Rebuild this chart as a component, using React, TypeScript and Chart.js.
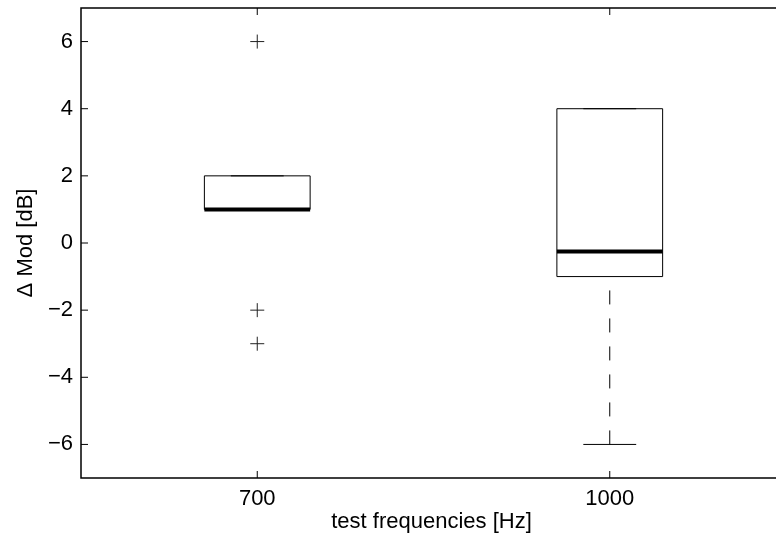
import React, { useEffect, useRef } from "react";
import { Chart, registerables } from "chart.js";

Chart.register(...registerables);

// Groups along the x axis
const categories = ["700", "1000"];
const positions = [1, 2];

// Box statistics per group
const q1 = [1, -1];
const q3 = [2, 4];
const medians = [1, -0.25];
const whiskerLow = [1, -6];
const whiskerHigh = [2, 4];
const outliers = [[6, -2, -3], []];

// Axis ticks
const yTicks = [-6, -4, -2, 0, 2, 4, 6];
const yTickLabels = ["−6", "−4", "−2", "0", "2", "4", "6"];

const xTitle = "test frequencies [Hz]";
const yTitle = "Δ Mod [dB]";

const FONT = "'Liberation Sans', Arial, Helvetica, sans-serif";
const FONT_SIZE = 22;

const BOX_HALF = 0.15;
const CAP_HALF = 0.075;
const TICK_LEN = 7;

const boxPlugin = {
  id: "boxPlot",
  beforeDatasetsDraw(chart: any) {
    const { ctx, scales } = chart;
    const xs = scales.x;
    const ys = scales.y;
    ctx.save();
    ctx.strokeStyle = "#000";
    positions.forEach((p, i) => {
      const xc = xs.getPixelForValue(p);
      const xl = xs.getPixelForValue(p - BOX_HALF);
      const xr = xs.getPixelForValue(p + BOX_HALF);
      const cl = xs.getPixelForValue(p - CAP_HALF);
      const cr = xs.getPixelForValue(p + CAP_HALF);
      const yq1 = ys.getPixelForValue(q1[i]);
      const yq3 = ys.getPixelForValue(q3[i]);
      const ylo = ys.getPixelForValue(whiskerLow[i]);
      const yhi = ys.getPixelForValue(whiskerHigh[i]);
      const ymed = ys.getPixelForValue(medians[i]);

      // whiskers (dashed), drawn from the caps toward the box
      ctx.lineWidth = 1;
      ctx.setLineDash([14, 14]);
      if (ylo - yq1 > 0.5) {
        ctx.beginPath();
        ctx.moveTo(xc, ylo);
        ctx.lineTo(xc, yq1);
        ctx.stroke();
      }
      if (yq3 - yhi > 0.5) {
        ctx.beginPath();
        ctx.moveTo(xc, yhi);
        ctx.lineTo(xc, yq3);
        ctx.stroke();
      }
      ctx.setLineDash([]);

      // caps
      ctx.beginPath();
      ctx.moveTo(cl, ylo);
      ctx.lineTo(cr, ylo);
      ctx.moveTo(cl, yhi);
      ctx.lineTo(cr, yhi);
      ctx.stroke();

      // box
      ctx.beginPath();
      ctx.rect(xl, yq3, xr - xl, yq1 - yq3);
      ctx.stroke();

      // median
      ctx.lineWidth = 4;
      ctx.beginPath();
      ctx.moveTo(xl, ymed);
      ctx.lineTo(xr, ymed);
      ctx.stroke();
    });
    ctx.restore();
  },
  afterDraw(chart: any) {
    const { ctx, chartArea, scales } = chart;
    const { left, top, right, bottom } = chartArea;
    ctx.save();
    ctx.strokeStyle = "#000";
    ctx.lineWidth = 1.5;
    // axes frame
    ctx.beginPath();
    ctx.moveTo(right, top);
    ctx.lineTo(left, top);
    ctx.lineTo(left, bottom);
    ctx.lineTo(right, bottom);
    ctx.stroke();

    // inward tick marks
    ctx.lineWidth = 1;
    ctx.beginPath();
    yTicks.forEach((v) => {
      const y = scales.y.getPixelForValue(v);
      ctx.moveTo(left, y);
      ctx.lineTo(left + TICK_LEN, y);
    });
    positions.forEach((p) => {
      const x = scales.x.getPixelForValue(p);
      ctx.moveTo(x, bottom);
      ctx.lineTo(x, bottom - TICK_LEN);
      ctx.moveTo(x, top);
      ctx.lineTo(x, top + TICK_LEN);
    });
    ctx.stroke();

    // axis titles
    ctx.fillStyle = "#000";
    ctx.font = `${FONT_SIZE}px ${FONT}`;
    ctx.textAlign = "center";
    ctx.textBaseline = "alphabetic";
    ctx.fillText(xTitle, (left + right) / 2 - 2, 528);
    ctx.translate(32, (top + bottom) / 2);
    ctx.rotate(-Math.PI / 2);
    ctx.fillText(yTitle, 0, 0);
    ctx.restore();
  },
};

export default function App() {
  const canvasRef = useRef<HTMLCanvasElement | null>(null);

  useEffect(() => {
    const canvas = canvasRef.current;
    if (!canvas) return;
    const points: { x: number; y: number }[] = [];
    outliers.forEach((vals, i) => {
      vals.forEach((v) => points.push({ x: positions[i], y: v }));
    });

    const tickFont = { family: FONT, size: FONT_SIZE };
    const noEdgePadding = (s: any) => {
      s.paddingTop = 0;
      s.paddingBottom = 0;
      s.paddingLeft = 0;
      s.paddingRight = 0;
    };

    const chart = new Chart(canvas, {
      type: "scatter",
      data: {
        datasets: [
          {
            data: points,
            pointStyle: "cross",
            radius: 7,
            hoverRadius: 7,
            borderColor: "#222",
            backgroundColor: "#222",
            borderWidth: 1,
          },
        ],
      },
      options: {
        responsive: false,
        animation: false,
        devicePixelRatio: 1,
        layout: { padding: { top: 7, right: 34, left: 0, bottom: 0 } },
        plugins: {
          legend: { display: false },
          tooltip: { enabled: false },
        },
        scales: {
          x: {
            type: "linear",
            min: 0.5,
            max: 2.5,
            grid: { display: false, drawTicks: false },
            border: { display: false },
            ticks: {
              padding: 8,
              color: "#000",
              font: tickFont,
              callback: (v: any) => categories[positions.indexOf(Number(v))] ?? "",
            },
            afterBuildTicks: (s: any) => {
              s.ticks = positions.map((v) => ({ value: v }));
            },
            afterFit: (s: any) => {
              s.height = 67;
              noEdgePadding(s);
            },
          },
          y: {
            type: "linear",
            min: -7,
            max: 7,
            grid: { display: false, drawTicks: false },
            border: { display: false },
            ticks: {
              padding: 8,
              color: "#000",
              font: tickFont,
              callback: (v: any) => yTickLabels[yTicks.indexOf(Number(v))] ?? "",
            },
            afterBuildTicks: (s: any) => {
              s.ticks = yTicks.map((v) => ({ value: v }));
            },
            afterFit: (s: any) => {
              s.width = 81;
              noEdgePadding(s);
            },
          },
        },
      },
      plugins: [boxPlugin],
    });
    return () => chart.destroy();
  }, []);

  return (
    <div
      style={{
        position: "absolute",
        left: 0,
        top: 0,
        width: 776,
        height: 545,
        overflow: "hidden",
        background: "#fff",
      }}
    >
      <canvas
        ref={canvasRef}
        width={820}
        height={545}
        style={{ display: "block", width: 820, height: 545 }}
      />
    </div>
  );
}
